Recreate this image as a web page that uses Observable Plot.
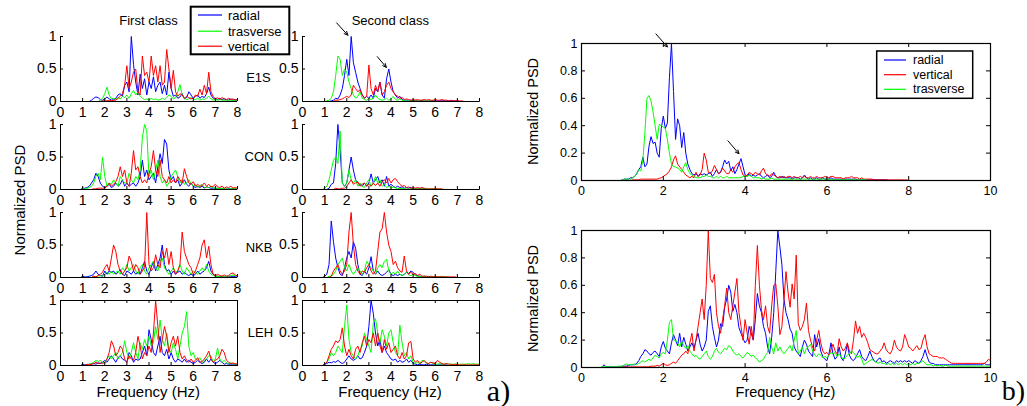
<!DOCTYPE html>
<html><head><meta charset="utf-8">
<script src="https://cdn.jsdelivr.net/npm/d3@7"></script>
<script src="https://cdn.jsdelivr.net/npm/@observablehq/plot@0.6"></script>
<style>
html,body{margin:0;padding:0;background:#fff;}
#root{position:relative;width:1027px;height:406px;overflow:hidden;background:#fff;}
svg{overflow:visible}
</style></head><body><div id="root"></div>
<script>
// ---------- DATA (normalized PSD, small panels sampled every 0.1 Hz from 0 to 8 Hz) ----------
const STEP_SMALL = 0.1;
const STEP_BIG = 0.05;
const xTicksSmall = [0,1,2,3,4,5,6,7,8];
const yTicksSmall = [0,0.5,1];
const xTicksBig = [0,2,4,6,8,10];
const yTicksBig = [0,0.2,0.4,0.6,0.8,1];
const panelNames = ["E1S","CON","NKB","LEH"];
const classTitles = ["First class","Second class"];

const e1s1Radial = [0,0,0,0,0,0,0,0,0,0, 0,0,0,0,.02,.05,.07,.06,.03,.02, .04,.07,.04,.02,.03,.05,.1,.12,.08,.25, .3,.15,1,.57,.3,.1,.42,.2,.35,.1, .3,.2,.38,.15,.25,.3,.12,.25,.1,.45, .2,.08,.1,.05,.07,.12,.04,.06,.15,.1, .05,.08,.1,.05,.08,.06,.12,.22,.1,.05, .04,.03,.05,.03,.04,.03,.02,.04,.02,.03, .02];
const e1s1Trasverse = [0,0,0,0,0,0,0,0,0,0, 0,0,0,0,0,0,0,0,.02,.05, .12,.22,.1,.04,.05,.03,.06,.04,.08,.06, .1,.05,.12,.17,.1,.15,.08,.05,.03,.04, .02,.05,.03,.04,.02,.03,.05,.03,.06,.1, .08,.04,.06,.15,.26,.1,.05,.03,.04,.06, .04,.03,.05,.02,.04,.03,.05,.08,.04,.02, .03,.02,.03,.02,.02,.01,.02,.01,.02,.01, .01];
const e1s1Vertical = [0,0,0,0,0,0,0,0,0,0, 0,0,0,0,0,0,0,0,0,.01, .01,.01,.02,.01,.02,.02,.05,.08,.12,.25, .55,.2,.3,.45,.5,.15,.1,.7,.4,.45, .3,.7,.4,.55,.3,.55,.25,.3,.8,.5, .2,.48,.15,.08,.12,.1,.05,.08,.06,.04, .05,.1,.08,.19,.1,.25,.12,.45,.15,.08, .04,.06,.03,.06,.04,.03,.05,.03,.04,.02, .03];

const e1s2Radial = [0,0,0,0,0,0,0,0,0,0, 0,0,0,.01,.02,.05,.04,.1,.2,.4, .65,.4,1,.6,.45,.3,.2,.1,.05,.08, .05,.1,.05,.2,.15,.3,.1,.05,.35,.5, .3,.15,.1,.05,.08,.03,.02,.02,.01,.02, .01,.02,.01,.01,.02,.01,.01,.01,.01,.01, .01,.01,.01,.01,.01,.01,.01,.01,.01,.01, .01,0,0,0,0,0,0,0,0,0, 0];
const e1s2Trasverse = [0,0,0,0,0,0,0,0,0,0, 0,.01,.02,.05,.15,.4,.7,.65,.4,.5, .45,.3,.2,.1,.05,.08,.15,.05,.03,.02, .05,.03,.05,.1,.05,.03,.02,.03,.05,.02, .04,.08,.03,.02,.04,.02,.01,.01,.01,.01, .01,.01,.01,.01,.01,.01,.01,.01,.01,.01, 0,0,0,0,0,0,0,0,0,0, 0,0,0,0,0,0,0,0,0,0, 0];
const e1s2Vertical = [0,0,0,0,0,0,0,0,0,0, 0,0,0,0,0,.02,.02,.03,.04,.06, .08,.06,.1,.25,.2,.15,.18,.1,.05,.08, .56,.2,.1,.25,.15,.3,.1,.15,.25,.3, .2,.15,.1,.08,.05,.06,.03,.04,.03,.02, .03,.02,.03,.02,.02,.03,.02,.03,.02,.02, .03,.02,.02,.03,.02,.02,.01,.02,.01,.01, .01,.01,.01,0,0,0,0,0,0,0, 0];

const con1Radial = [0,0,0,0,0,0,0,0,0,0, .02,.02,.03,.05,.1,.15,.25,.2,.1,.05, .03,.05,.08,.03,.05,.1,.05,.08,.15,.05, .1,.05,.08,.1,.05,.1,.2,.45,.2,.3, .15,.2,.25,.1,.35,.55,.4,.77,.7,.3, .15,.2,.1,.15,.05,.1,.15,.08,.05,.1, .05,.03,.05,.03,.05,.02,.04,.03,.02,.02, .02,.01,.01,.01,.01,.01,.01,.01,.01,.01, .01];
const con1Trasverse = [0,0,0,0,0,0,0,0,0,0, .02,.01,.02,.03,.05,.1,.2,.25,.15,.5, .2,.05,.1,.08,.15,.1,.05,.2,.15,.1, .1,.25,.15,.1,.2,.15,.3,.8,1,.9, .2,.3,.15,.3,.45,.2,.1,.15,.05,.1, .2,.25,.3,.2,.1,.15,.08,.1,.15,.1, .05,.08,.03,.06,.08,.03,.04,.03,.05,.02, .02,.02,.01,.02,.01,.02,.01,.01,.02,.01, .01];
const con1Vertical = [0,0,0,0,0,0,0,0,0,0, 0,0,0,0,0,.01,.01,.02,.02,.02, .02,.05,.1,.05,.08,.12,.2,.35,.2,.3, .1,.05,.25,.6,.3,.35,.2,.1,.15,.1, .25,.35,.6,.3,.2,.45,.2,.15,.1,.2, .1,.15,.1,.2,.15,.1,.32,.2,.1,.08, .12,.05,.08,.05,.06,.1,.05,.08,.04,.05, .08,.04,.03,.05,.02,.04,.03,.05,.02,.03, .02];

const con2Radial = [0,0,0,0,0,0,0,0,0,0, 0,0,.02,.08,.1,.4,1,.6,.1,.05, .1,.3,.5,.3,.15,.1,.08,.05,.1,.05, .1,.24,.1,.15,.2,.1,.15,.05,.2,.05, .08,.05,.03,.05,.03,.04,.02,.03,.02,.03, .01,.01,.01,.01,.01,.01,0,0,0,0, 0,0,0,0,0,0,0,0,0,0, 0,0,0,0,0,0,0,0,0,0, 0];
const con2Trasverse = [0,0,0,0,0,0,0,0,0,0, .02,.05,.15,.3,.45,.5,.4,.9,.1,.05, .1,.3,.15,.1,.15,.05,.1,.05,.03,.1, .15,.05,.1,.2,.1,.15,.05,.08,.03,.05, .02,.04,.02,.02,.01,.02,.01,.01,.01,.01, .01,.01,.01,.01,.01,.01,.01,.01,.01,.01, .01,.01,.01,0,0,0,0,0,0,0, 0,0,0,0,0,0,0,0,0,0, 0];
const con2Vertical = [0,0,0,0,0,0,0,0,0,0, 0,0,0,0,0,.02,.01,.01,.02,.02, .05,.1,.15,.08,.1,.12,.05,.08,.1,.05, .08,.05,.1,.06,.1,.05,.12,.15,.1,.17, .1,.15,.17,.12,.08,.05,.06,.03,.04,.02, .03,.02,.03,.02,.03,.02,.01,.01,.01,.01, .01,.01,.01,.01,0,0,0,0,0,0, 0,0,0,0,0,0,0,0,0,0, 0];

const nkb1Radial = [0,0,0,0,0,0,0,0,0,0, .02,.01,.01,.02,.03,.05,.1,.05,.03,.02, .1,.05,.1,.08,.1,.05,.08,.12,.05,.03, .1,.08,.05,.1,.05,.08,.05,.15,.25,.1, .05,.15,.25,.1,.2,.3,.5,.2,.1,.12, .05,.1,.05,.08,.1,.05,.08,.05,.03,.05, .03,.05,.1,.05,.08,.1,.15,.25,.1,.05, .02,.02,.01,.02,.01,.01,.02,.01,.02,.01, .01];
const nkb1Trasverse = [0,0,0,0,0,0,0,0,0,0, 0,0,0,0,0,.02,.01,.02,.03,.02, .05,.08,.05,.1,.05,.08,.1,.05,.15,.1, .2,.1,.15,.2,.1,.05,.15,.2,.1,.05, .15,.2,.25,.15,.1,.25,.3,.15,.1,.05, .1,.15,.08,.1,.2,.1,.05,.15,.1,.05, .1,.08,.05,.1,.15,.1,.2,.1,.05,.03, .02,.02,.01,.02,.01,.02,.02,.03,.04,.03, .03];
const nkb1Vertical = [0,0,0,0,0,0,0,0,0,0, 0,0,0,0,0,.02,.01,.03,.05,.08, .15,.2,.1,.3,.5,.4,.2,.1,.05,.1, .15,.33,.25,.1,.2,.15,.05,.1,.15,1, .2,.1,.15,.35,.2,.15,.4,.3,.45,.2, .4,.15,.05,.1,.2,.7,.4,.3,.2,.15, .05,.1,.2,.3,.5,.58,.3,.48,.2,.05, .03,.05,.03,.02,.04,.02,.03,.06,.07,.04, .02];

const nkb2Radial = [0,0,0,0,0,0,0,0,0,0, .02,.05,.2,.87,.55,.3,.15,.05,.03,.15, .3,.4,.3,.55,.45,.2,.05,.03,.1,.05, .15,.32,.1,.05,.1,.05,.03,.05,.08,.12, .05,.03,.05,.03,.05,.03,.05,.08,.06,.1, .08,.04,.02,.02,.01,.02,.01,.01,.01,.01, .01,.01,.01,.01,.01,0,0,0,0,0, 0,0,0,0,0,0,0,0,0,0, 0];
const nkb2Trasverse = [0,0,0,0,0,0,0,0,0,0, 0,0,.02,.02,.05,.1,.2,.25,.3,.15, .1,.2,.1,.05,.1,.15,.1,.05,.1,.25, .2,.15,.1,.05,.15,.2,.15,.25,.28,.1, .05,.08,.05,.1,.05,.03,.05,.08,.04,.03, .05,.03,.02,.02,.01,.02,.01,.02,.01,.01, .02,.01,.01,.02,.01,.01,.01,0,0,0, 0,0,0,0,0,0,0,0,0,0, 0];
const nkb2Vertical = [0,0,0,0,0,0,0,0,0,0, 0,0,0,.02,.1,.15,.2,.1,.05,.1, .2,.7,1,.5,.2,.1,.05,.1,.08,.15, .2,.1,.05,.1,.4,.7,.75,1,.7,.5, .4,.2,.25,.15,.1,.08,.33,.1,.05,.08, .05,.06,.03,.05,.02,.02,.02,.01,.02,.01, .01,.01,.01,.01,.01,.01,.01,.01,.01,.01, 0,0,0,0,0,0,0,0,0,0, 0];

const leh1Radial = [0,0,0,0,0,0,0,0,0,0, .02,.01,.01,.02,.02,.03,.02,.04,.03,.05, .08,.05,.1,.15,.1,.05,.12,.15,.1,.08, .05,.2,.15,.05,.1,.08,.1,.2,.3,.15, .55,.4,.2,.15,.3,.45,.2,.15,.25,.1, .2,.1,.05,.1,.08,.05,.1,.05,.08,.05, .03,.05,.08,.05,.03,.05,.1,.05,.1,.05, .03,.05,.08,.05,.02,.03,.02,.02,.02,.02, .02];
const leh1Trasverse = [0,0,0,0,0,0,0,0,0,0, 0,0,0,.02,.03,.05,.08,.06,.08,.05, .03,.1,.15,.1,.15,.2,.1,.15,.2,.38, .2,.1,.2,.35,.2,.1,.35,.25,.4,.3, .45,.3,.35,.6,.4,.7,.4,.3,.5,.25, .2,.35,.25,.1,.3,.5,.6,.83,.3,.15, .2,.1,.08,.12,.05,.08,.1,.15,.15,.05, .1,.27,.1,.05,.08,.04,.03,.04,.02,.03, .02];
const leh1Vertical = [0,0,0,0,0,0,0,0,0,0, 0,0,.02,.01,.02,.03,.05,.03,.04,.03, .05,.1,.2,.38,.3,.15,.2,.3,.25,.1, .05,.15,.1,.08,.2,.45,.3,.1,.2,.15, .3,.2,.5,1,.6,.2,.4,.6,.45,.2, .35,.45,.3,.45,.2,.1,.15,.08,.05,.1, .05,.08,.12,.05,.06,.1,.15,.22,.1,.05, .08,.1,.15,.25,.2,.08,.05,.03,.04,.02, .03];

const leh2Radial = [0,0,0,0,0,0,0,0,0,0, .02,.03,.05,.04,.06,.05,.08,.05,.03,.05, .1,.15,.1,.08,.1,.15,.1,.12,.2,.3, .6,1,.8,.5,.3,.4,.2,.3,.2,.15, .1,.08,.1,.05,.08,.05,.06,.1,.05,.08, .03,.02,.01,.02,.01,.01,.02,.01,.01,.01, .01,.01,.01,.01,.01,.01,0,0,0,0, 0,0,0,0,0,0,0,0,0,0, 0];
const leh2Trasverse = [0,0,0,0,0,0,0,0,0,0, .02,.05,.1,.2,.15,.2,.3,.25,.2,.6, .93,.4,.2,.15,.1,.15,.25,.3,.5,.4, .3,.2,.65,.72,.5,.35,.55,.45,.3,.5, .55,.35,.2,.15,.62,.35,.15,.2,.1,.15, .05,.03,.05,.03,.08,.06,.04,.03,.05,.03, .02,.02,.03,.02,.02,.03,.02,.02,.02,.02, .02,.02,.02,.02,.02,.03,.02,.03,.02,.02, .02];
const leh2Vertical = [0,0,0,0,0,0,0,0,0,0, .02,.05,.15,.25,.3,.38,.35,.4,.58,.3, .15,.25,.15,.1,.25,.3,.2,.35,.45,.3, .4,.35,.5,.3,.5,.3,.2,.4,.25,.35, .2,.25,.3,.15,.1,.2,.1,.15,.35,.37, .1,.05,.08,.03,.05,.08,.04,.03,.05,.04, .03,.08,.05,.03,.02,.03,.02,.02,.01,.02, .01,.01,.01,.01,.01,.01,.01,.01,.01,.01, .01];

// ---------- DATA (panel b, sampled every 0.05 Hz from 0 to 10 Hz) ----------
const topRadial = [
0,0,0,0,0,0,0,0,0,0,0,0,0,0,0,0,0,0,0,0,
.005,.01,.01,.01,.02,.02,.03,.05,.08,.1,.17,.1,.12,.25,.32,.27,.28,.2,.17,.38,
.47,.38,.42,.75,1,.65,.3,.45,.4,.24,.35,.2,.12,.08,.05,.04,.05,.03,.05,.04,
.05,.04,.05,.06,.03,.05,.08,.05,.06,.1,.15,.12,.14,.07,.1,.05,.08,.12,.16,.1,
.04,.03,.05,.03,.04,.03,.04,.05,.03,.02,.03,.04,.02,.03,.06,.03,.02,.02,.03,.02,
.02,.02,.02,.01,.02,.02,.02,.01,.02,.04,.02,.01,.02,.01,.01,.02,.01,.01,.02,.01,
.01,.01,.02,.01,.01,.01,.01,.01,.01,.01,.01,.01,.01,.01,.01,.005,.005,.005,.005,.005,
.005,.005,.005,.005,.005,.005,.005,.005,.005,.005,0,0,0,0,0,0,0,0,0,0,
0,0,0,0,0,0,0,0,0,0,0,0,0,0,0,0,0,0,0,0,
0,0,0,0,0,0,0,0,0,0,0,0,0,0,0,0,0,0,0,0,0];
const topVertical = [
0,0,0,0,0,0,0,0,0,0,0,0,0,0,0,0,0,0,0,0,
0,0,0,0,0,.005,.005,.005,.005,.01,.01,.01,.01,.01,.01,.01,.01,.01,.015,.02,
.03,.04,.05,.07,.1,.15,.18,.12,.1,.08,.06,.04,.03,.02,.03,.02,.06,.03,.04,.08,
.2,.15,.06,.05,.07,.11,.08,.05,.06,.09,.07,.05,.05,.08,.06,.1,.12,.13,.08,.04,
.03,.04,.06,.05,.04,.06,.05,.04,.07,.09,.05,.04,.03,.05,.04,.03,.02,.03,.02,.03,
.02,.03,.03,.02,.03,.02,.02,.03,.02,.03,.02,.02,.03,.02,.02,.03,.02,.02,.02,.03,
.02,.02,.03,.03,.02,.02,.02,.02,.01,.02,.02,.02,.03,.02,.02,.02,.01,.02,.01,.01,
.01,.01,.01,.005,.005,.005,.005,.005,.005,.005,.005,.005,.005,.005,.005,.005,.005,.005,.005,.005,
0,0,0,0,0,0,0,0,0,0,0,0,0,0,0,0,0,0,0,0,
0,0,0,0,0,0,0,0,0,0,0,0,0,0,0,0,0,0,0,0,0];
const topTrasverse = [
0,0,0,0,0,0,0,0,0,0,0,0,0,0,0,0,0,0,0,0,
.005,.01,.01,.01,.01,.02,.03,.05,.08,.07,.15,.35,.6,.62,.58,.5,.4,.3,.41,.4,
.39,.38,.3,.2,.12,.1,.1,.09,.08,.06,.1,.13,.08,.05,.04,.03,.02,.02,.02,.03,
.03,.04,.03,.03,.02,.02,.03,.02,.03,.02,.02,.03,.02,.02,.02,.02,.02,.02,.02,.03,
.03,.03,.04,.03,.02,.02,.02,.02,.01,.02,.01,.01,.01,.02,.01,.01,.01,.01,.01,.01,
.01,.01,.01,.01,.01,.01,.01,.01,.01,.01,.01,.01,.01,.01,.01,.01,.01,.01,.01,.01,
.01,.01,.005,.005,.005,.005,.005,.005,.005,.005,.005,.005,.005,.005,.005,.005,.005,.005,.005,.005,
0,0,0,0,0,0,0,0,0,0,0,0,0,0,0,0,0,0,0,0,
0,0,0,0,0,0,0,0,0,0,0,0,0,0,0,0,0,0,0,0,
0,0,0,0,0,0,0,0,0,0,0,0,0,0,0,0,0,0,0,0,0];

const botRadial = [
0,0,0,0,0,0,0,0,0,0,0,.02,.005,.005,.005,.005,.005,.005,.005,.005,
.01,.01,.01,.015,.02,.02,.02,.03,.05,.08,.1,.13,.12,.1,.09,.11,.12,.1,.08,.15,
.19,.14,.12,.1,.18,.24,.2,.16,.25,.15,.22,.17,.12,.15,.18,.14,.2,.25,.17,.12,
.15,.2,.41,.45,.3,.22,.15,.2,.32,.3,.44,.5,.6,.55,.41,.46,.4,.29,.25,.21,
.18,.2,.3,.25,.2,.35,.54,.45,.4,.3,.25,.15,.1,.22,.4,.7,1,.88,.75,.5,
.4,.35,.28,.25,.15,.12,.1,.08,.15,.2,.17,.12,.1,.08,.24,.15,.21,.12,.08,.06,
.05,.1,.18,.1,.06,.08,.15,.07,.05,.1,.17,.09,.06,.05,.07,.1,.13,.08,.06,.05,
.08,.12,.08,.05,.04,.06,.07,.04,.05,.03,.04,.05,.04,.03,.05,.04,.05,.04,.05,.04,
.05,.04,.03,.05,.04,.03,.05,.08,.13,.08,.04,.03,.03,.02,.02,.02,.02,.02,.02,.02,
.02,.02,.02,.02,.02,.02,.02,.02,.02,.02,.02,.02,.02,.02,.02,.02,.02,.03,.02,.02,.02];
const botVertical = [
0,0,0,0,0,0,0,0,0,0,0,0,0,0,0,0,0,0,0,0,
.005,.005,.005,.005,.005,.005,.005,.005,.005,.005,.005,.005,.005,.005,.01,.01,.01,.015,.01,.02,
.03,.02,.015,.02,.03,.04,.03,.05,.07,.09,.1,.12,.1,.18,.25,.12,.2,.3,.4,.5,
.35,.6,1,.65,.62,.68,.4,.3,.25,.35,.45,.58,.4,.35,.45,.55,.65,.4,.3,.2,
.35,.25,.17,.3,.2,.6,.89,.6,.42,.35,.45,.3,.25,.45,.6,.61,.45,.24,.3,.49,
.7,.55,.44,.61,.5,.82,.32,.27,.3,.35,.47,.27,.2,.15,.12,.2,.27,.18,.12,.1,
.11,.09,.13,.17,.12,.1,.21,.15,.12,.14,.18,.12,.1,.2,.34,.25,.3,.22,.25,.22,
.18,.13,.12,.11,.1,.1,.12,.14,.18,.13,.11,.1,.13,.2,.15,.13,.12,.15,.24,.2,
.15,.14,.12,.14,.16,.13,.14,.2,.24,.15,.1,.09,.08,.08,.08,.07,.07,.07,.06,.05,
.04,.03,.03,.03,.03,.03,.03,.03,.03,.03,.03,.03,.03,.03,.03,.03,.03,.03,.04,.06,.05];
const botTrasverse = [
0,0,0,0,0,0,0,0,0,0,.005,.005,.005,.005,.005,.005,.005,.005,.01,.01,
.01,.02,.025,.02,.02,.02,.025,.02,.03,.04,.05,.04,.05,.06,.05,.07,.09,.08,.07,.1,
.11,.1,.2,.33,.35,.2,.2,.18,.15,.19,.16,.14,.16,.12,.1,.08,.09,.07,.06,.08,
.1,.12,.08,.06,.08,.12,.14,.11,.1,.12,.14,.13,.16,.15,.12,.1,.09,.1,.08,.07,
.09,.11,.1,.08,.09,.07,.06,.04,.05,.06,.09,.11,.22,.15,.1,.18,.12,.15,.12,.1,
.12,.14,.16,.12,.2,.27,.1,.12,.15,.1,.14,.15,.17,.12,.09,.08,.1,.09,.07,.08,
.07,.09,.11,.1,.11,.08,.1,.08,.06,.07,.09,.1,.12,.11,.09,.07,.09,.06,.02,.03,
.04,.05,.06,.05,.04,.03,.04,.03,.03,.02,.03,.02,.03,.02,.03,.02,.03,.02,.03,.02,
.03,.02,.03,.02,.03,.03,.04,.05,.03,.02,.02,.02,.01,.02,.01,.02,.01,.01,.02,.01,
.01,.01,.01,.01,.01,.01,.01,.01,.01,.01,.01,.01,.01,.01,.01,.01,.01,.01,.01,.01,.01];

// arrow annotations (data units of the panel they sit in)
const arrowsE1S = [{x1:1.54,y1:1.21,x2:2.05,y2:1.02},{x1:3.38,y1:0.69,x2:3.79,y2:0.525}];
const arrowsTop = [{x1:1.82,y1:1.07,x2:2.1,y2:0.975},{x1:3.58,y1:0.29,x2:3.85,y2:0.195}];

// ---------- RENDER ----------
const COLORS = {radial:"#0000ff", trasverse:"#00ff00", vertical:"#ff0000"};
const FONT = "'Liberation Sans', Arial, Helvetica, sans-serif";
const SERIF = "'Liberation Serif','DejaVu Serif',serif";
const root = document.getElementById("root");
const fmt = d => String(d);

function rows(vals, step){ return vals.map((v,i)=>({f: Math.round(i*step*1000)/1000, v})); }

function panel(c){
  const ml=46, mr=12, mt=12, mb=26;
  const marks = [];
  for (const s of c.series) marks.push(Plot.line(rows(s.values, c.step), {x:"f", y:"v", stroke: COLORS[s.name], strokeWidth: 1}));
  marks.push(Plot.tickX(c.xTicks, {x:d=>d, insetTop: c.h - c.tl, stroke:"#000"}));
  marks.push(Plot.tickY(c.yTicks, {y:d=>d, insetRight: c.w - c.tl, stroke:"#000"}));
  if (c.box){
    marks.push(Plot.tickX(c.xTicks, {x:d=>d, insetBottom: c.h - c.tl, stroke:"#000"}));
    marks.push(Plot.tickY(c.yTicks, {y:d=>d, insetLeft: c.w - c.tl, stroke:"#000"}));
    marks.push(Plot.frame({stroke:"#000", strokeWidth: c.bw || 1}));
  } else {
    marks.push(Plot.ruleY([0], {stroke:"#000"}));
    marks.push(Plot.ruleX([0], {stroke:"#000"}));
  }
  marks.push(Plot.axisX(c.xTicks, {anchor:"bottom", tickSize:0, tickPadding:c.xPad, fontSize:c.fs, label:null, tickFormat: fmt}));
  marks.push(Plot.axisY(c.yTicks, {anchor:"left", tickSize:0, tickPadding:c.yPad, fontSize:c.fs, label:null, tickFormat: fmt}));
  if (c.arrows) marks.push(Plot.arrow(c.arrows, {x1:"x1", y1:"y1", x2:"x2", y2:"y2", stroke:"#000", strokeWidth:1, headLength:6, headAngle:50}));
  const svg = Plot.plot({
    width: c.w+ml+mr, height: c.h+mt+mb,
    marginLeft: ml, marginRight: mr, marginTop: mt, marginBottom: mb,
    x: {domain:[0, c.xMax], axis:null},
    y: {domain:[0, 1], axis:null},
    style: {background:"transparent", fontFamily: FONT, color:"#000", overflow:"visible"},
    marks
  });
  svg.style.position = "absolute";
  svg.style.left = (c.left - ml) + "px";
  svg.style.top = (c.top - mt) + "px";
  root.appendChild(svg);
}

const smallLeft = [60, 302], smallTop = [36, 124, 212, 300], smallW = 177, smallH = 65;
const smallData = [
  [[e1s1Radial,e1s1Trasverse,e1s1Vertical],[e1s2Radial,e1s2Trasverse,e1s2Vertical]],
  [[con1Radial,con1Trasverse,con1Vertical],[con2Radial,con2Trasverse,con2Vertical]],
  [[nkb1Radial,nkb1Trasverse,nkb1Vertical],[nkb2Radial,nkb2Trasverse,nkb2Vertical]],
  [[leh1Radial,leh1Trasverse,leh1Vertical],[leh2Radial,leh2Trasverse,leh2Vertical]]
];
smallData.forEach((row, r) => row.forEach((arr, col) => {
  panel({left: smallLeft[col], top: smallTop[r], w: smallW, h: smallH, xMax: 8, step: STEP_SMALL,
    xTicks: xTicksSmall, yTicks: yTicksSmall, fs: 14, xPad: 6, yPad: 4, tl: 3, box: r === 3,
    arrows: (r === 0 && col === 1) ? arrowsE1S : null,
    series: [{name:"radial", values: arr[0]}, {name:"trasverse", values: arr[1]}, {name:"vertical", values: arr[2]}]});
}));

const bigLeft = 581, bigTop = [43, 230], bigW = 409, bigH = 137;
panel({left: bigLeft, top: bigTop[0], w: bigW, h: bigH, xMax: 10, step: STEP_BIG, xTicks: xTicksBig, yTicks: yTicksBig,
  fs: 12.5, xPad: 6, yPad: 4, tl: 4, box: true, bw: 1.2, arrows: arrowsTop,
  series: [{name:"radial", values: topRadial}, {name:"vertical", values: topVertical}, {name:"trasverse", values: topTrasverse}]});
panel({left: bigLeft, top: bigTop[1], w: bigW, h: bigH, xMax: 10, step: STEP_BIG, xTicks: xTicksBig, yTicks: yTicksBig,
  fs: 12.5, xPad: 6, yPad: 4, tl: 4, box: true, bw: 1.2,
  series: [{name:"radial", values: botRadial}, {name:"vertical", values: botVertical}, {name:"trasverse", values: botTrasverse}]});

// ---------- overlay texts & legends ----------
const ov = d3.create("svg").attr("width", 1027).attr("height", 406)
  .style("position","absolute").style("left","0px").style("top","0px").style("font-family", FONT);
function txt(x, y, s, size, opts = {}){
  const t = ov.append("text").attr("x", x).attr("y", y).attr("text-anchor", opts.anchor || "middle")
    .attr("dominant-baseline", "central").attr("font-size", size).attr("fill", "#000").text(s);
  if (opts.rotate) t.attr("transform", `rotate(-90 ${x} ${y})`);
  if (opts.family) t.attr("font-family", opts.family);
  return t;
}
txt(148.5, 20.7, classTitles[0], 13);
txt(390.3, 20.7, classTitles[1], 13);
[[258.5,77.7],[259,156],[259,247],[260.5,332]].forEach((p,i) => txt(p[0], p[1], panelNames[i], 13));
txt(19, 200, "Normalized PSD", 15, {rotate:true});
txt(148.3, 391.7, "Frequency (Hz)", 15);
txt(390, 391.7, "Frequency (Hz)", 15);
txt(785.5, 391.7, "Frequency (Hz)", 14.5);
txt(532.5, 111.5, "Normalized PSD", 14.5, {rotate:true});
txt(532.5, 298.5, "Normalized PSD", 14.5, {rotate:true});
txt(498.5, 390, "a)", 30, {family: SERIF});
txt(1025, 390, "b)", 28, {family: SERIF, anchor:"end"});

function legend(x, y, w, h, entries, bw, lx1, lx2, tx, ys, fs){
  ov.append("rect").attr("x", x).attr("y", y).attr("width", w).attr("height", h)
    .attr("fill", "#fff").attr("stroke", "#000").attr("stroke-width", bw);
  entries.forEach((e, i) => {
    ov.append("line").attr("x1", lx1).attr("x2", lx2).attr("y1", ys[i]).attr("y2", ys[i]).attr("stroke", COLORS[e]).attr("stroke-width", 1.2);
    txt(tx, ys[i], e, fs, {anchor:"start"});
  });
}
legend(190.7, 6.7, 98.6, 47.6, ["radial","trasverse","vertical"], 2, 198, 222, 228, [15, 31.2, 46.2], 13);
legend(876.7, 51, 96, 47.3, ["radial","vertical","trasverse"], 1.5, 884, 906, 913, [60, 74.7, 89.3], 12.5);
root.appendChild(ov.node());

// sanity check of array lengths
const smallAll = smallData.flat(2), bigAll = [topRadial,topVertical,topTrasverse,botRadial,botVertical,botTrasverse];
const bad = [];
smallAll.forEach((a,i)=>{ if (a.length !== 81) bad.push("small#"+i+":"+a.length); });
bigAll.forEach((a,i)=>{ if (a.length !== 201) bad.push("big#"+i+":"+a.length); });
if (bad.length) throw new Error("length mismatch " + bad.join(", "));
</script></body></html>
